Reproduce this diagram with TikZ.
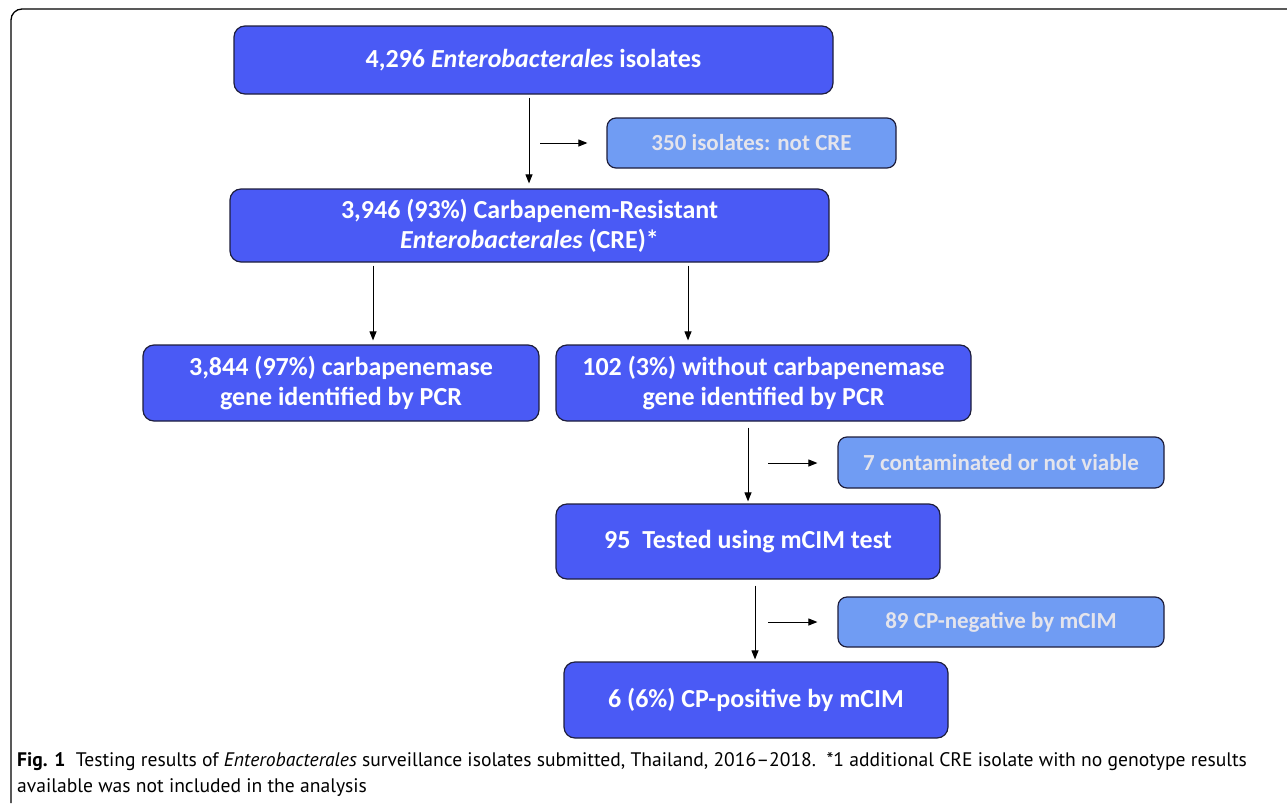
\documentclass[tikz,border=0pt]{standalone}
\usepackage{fontspec}
\setmainfont{Carlito}
\newfontfamily\capfont{PT Sans}
\usetikzlibrary{arrows.meta}
\definecolor{darkbox}{RGB}{74,90,245}
\definecolor{lightbox}{RGB}{112,156,243}
\definecolor{lighttext}{RGB}{228,228,236}
\definecolor{edgecol}{RGB}{30,30,60}
\tikzset{
  mainbox/.style={draw=edgecol, line width=1.2pt, fill=darkbox, rounded corners=11pt,
    text=white, font=\fontsize{26}{30}\selectfont\bfseries, align=center, inner sep=0pt},
  sidebox/.style={draw=edgecol, line width=1.2pt, fill=lightbox, rounded corners=9pt,
    text=lighttext, font=\fontsize{23}{27}\selectfont\bfseries, align=center, inner sep=0pt},
  arr/.style={-{Triangle[length=9pt,width=7pt]}, line width=1pt, black},
}
\begin{document}
\begin{tikzpicture}[x=1pt,y=-1pt]
\useasboundingbox[fill=white] (0,0) rectangle (1287,803);
\draw[line width=1.3pt, rounded corners=11pt] (11,803) -- (11,9) -- (1287,9);

\node[mainbox, minimum width=599, minimum height=68] (A) at (533.5,60) {4,296 \textit{Enterobacterales} isolates};
\node[sidebox, minimum width=289, minimum height=50] (B) at (751.5,143) {350 isolates: not CRE};
\node[mainbox, minimum width=599, minimum height=73] (C) at (529.5,225.5) {3,946 (93\%) Carbapenem-Resistant\\\textit{Enterobacterales} (CRE)*};
\node[mainbox, minimum width=396, minimum height=76] (D) at (341,383) {3,844 (97\%) carbapenemase\\gene identified by PCR};
\node[mainbox, minimum width=415, minimum height=76] (E) at (763.5,383) {102 (3\%) without carbapenemase\\gene identified by PCR};
\node[sidebox, minimum width=326, minimum height=51] (F) at (1001,462.5) {7 contaminated or not viable};
\node[mainbox, minimum width=384, minimum height=75] (G) at (748,541.5) {95\ \ Tested using mCIM test};
\node[sidebox, minimum width=326, minimum height=50] (H) at (1001,622) {89 CP-negative by mCIM};
\node[mainbox, minimum width=384, minimum height=76] (I) at (756,700) {6 (6\%) CP-positive by mCIM};

\coordinate (xa) at (529,0);
\coordinate (xd) at (373,0);
\coordinate (xe) at (688,0);
\coordinate (xg) at (748,0);
\coordinate (xi) at (755,0);
\coordinate (sb) at (540,143);
\coordinate (sf) at (768,463);
\coordinate (sh) at (768,622);

\draw[arr, shorten <=3pt, shorten >=5pt] (A.south -| xa) -- (C.north -| xa);
\draw[arr, shorten <=3pt, shorten >=4pt] (C.south -| xd) -- (D.north -| xd);
\draw[arr, shorten <=3pt, shorten >=4pt] (C.south -| xe) -- (E.north -| xe);
\draw[arr, shorten <=6pt, shorten >=2pt] (E.south -| xg) -- (G.north -| xg);
\draw[arr, shorten <=6pt, shorten >=2pt] (G.south -| xi) -- (I.north -| xi);
\draw[arr, shorten >=19pt] (sb) -- (B.west);
\draw[arr, shorten >=20pt] (sf) -- (F.west |- sf);
\draw[arr, shorten >=20pt] (sh) -- (H.west |- sh);

\node[anchor=west, inner sep=0pt, font=\capfont\fontsize{19.6}{26}\selectfont, align=left] (cap) at (17,774)
{\textbf{Fig. 1}\ \ Testing results of \textit{Enterobacterales} surveillance isolates submitted, Thailand, 2016–2018.\ \ *1 additional CRE isolate with no genotype results\\available was not included in the analysis};
\end{tikzpicture}
\end{document}
